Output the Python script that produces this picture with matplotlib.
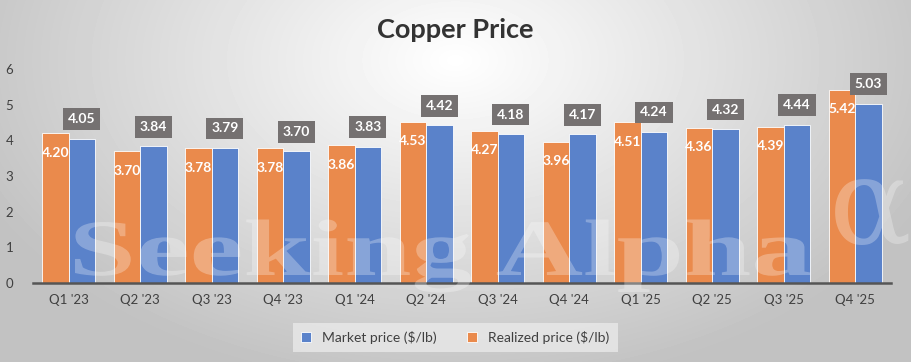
import numpy as np
import matplotlib.pyplot as plt
from matplotlib.textpath import TextPath
from matplotlib.patches import PathPatch
from matplotlib.font_manager import FontProperties
from matplotlib.transforms import Affine2D, IdentityTransform

# quarter labels and prices ($/lb)
quarters = ["Q1 '23", "Q2 '23", "Q3 '23", "Q4 '23", "Q1 '24", "Q2 '24",
            "Q3 '24", "Q4 '24", "Q1 '25", "Q2 '25", "Q3 '25", "Q4 '25"]
realized = [4.20, 3.70, 3.78, 3.78, 3.86, 4.53, 4.27, 3.96, 4.51, 4.36, 4.39, 5.42]
market = [4.05, 3.84, 3.79, 3.70, 3.83, 4.42, 4.18, 4.17, 4.24, 4.32, 4.44, 5.03]

orange = '#EA8A4C'
blue = '#5A82CA'
plt.rcParams['font.family'] = ['Lato', 'DejaVu Sans']

fig = plt.figure(figsize=(9.11, 3.62), dpi=100)

# gray radial background
bg = fig.add_axes([0, 0, 1, 1])
yy, xx = np.mgrid[0:362, 0:911]
r = np.sqrt(((xx - 455) / 520.0) ** 2 + ((yy - 60) / 330.0) ** 2)
shade = np.clip(1.0 - 0.24 * r, 0.76, 1.0)
bg.imshow(shade, cmap='gray', vmin=0, vmax=1, aspect='auto', extent=[0, 1, 0, 1])
bg.set_xlim(0, 1)
bg.set_ylim(0, 1)
bg.axis('off')

ax = fig.add_axes([0.036, 0.218, 0.942, 0.591])
ax.patch.set_alpha(0)

x = np.arange(len(quarters))
w = 0.37
ax.bar(x - w / 2, realized, w, color=orange, edgecolor='white', linewidth=0.6,
       label='Realized price ($/lb)', zorder=2)
ax.bar(x + w / 2, market, w, color=blue, edgecolor='white', linewidth=0.6,
       label='Market price ($/lb)', zorder=2)

for xi, v in zip(x, realized):
    ax.annotate(f'{v:.2f}', (xi - w / 2, v), xytext=(0, -14), textcoords='offset points',
                ha='center', va='center', color='white', fontsize=10, fontweight='bold',
                zorder=4)
for xi, v in zip(x, market):
    ax.annotate(f'{v:.2f}', (xi + w / 2, v), xytext=(0, 14), textcoords='offset points',
                ha='center', va='center', color='white', fontsize=10, fontweight='bold',
                bbox=dict(boxstyle='square,pad=0.35', fc='#757171', ec='none'), zorder=4)

ax.set_xlim(-0.5, len(quarters) - 0.5)
ax.set_ylim(0, 6)
ax.set_yticks(range(7))
ax.set_xticks(x)
ax.set_xticklabels(quarters)
ax.tick_params(axis='both', length=0, labelsize=9.5, labelcolor='#404040')
ax.tick_params(axis='x', pad=8)
ax.tick_params(axis='y', pad=14)
for s in ['top', 'right', 'left']:
    ax.spines[s].set_visible(False)
ax.spines['bottom'].set_color('#555555')
ax.spines['bottom'].set_linewidth(1.8)

# watermark, stretched wide like the original
wm_font = FontProperties(family='Liberation Serif', weight='bold')
tp = TextPath((0, 0), 'Seeking Alpha', size=1, prop=wm_font)
ext = tp.get_extents()
sx = 735 / ext.width
tr = Affine2D().translate(-ext.x0, 0).scale(sx, 80).translate(75, 87) + IdentityTransform()
fig.patches.append(PathPatch(tp, transform=tr, fc='white', ec='none', alpha=0.28, zorder=5))
fig.text(0.91, 0.325, '\u03b1', fontsize=88, family='DejaVu Serif',
         color='white', alpha=0.28, ha='left', va='baseline', zorder=5)

fig.suptitle('Copper Price', y=0.95, fontsize=19.5, fontweight='bold', color='#333333')

h, l = ax.get_legend_handles_labels()
leg = fig.legend([h[1], h[0]], [l[1], l[0]], loc='center', bbox_to_anchor=(0.5, 0.068),
                 ncol=2, frameon=True, fontsize=10, handlelength=0.7, handleheight=0.7,
                 columnspacing=2.2, borderpad=0.6, fancybox=False)
leg.get_frame().set_facecolor('#e9e9e9')
leg.get_frame().set_edgecolor('none')
for t in leg.get_texts():
    t.set_color('#404040')

fig.savefig('out.png', dpi=100)
